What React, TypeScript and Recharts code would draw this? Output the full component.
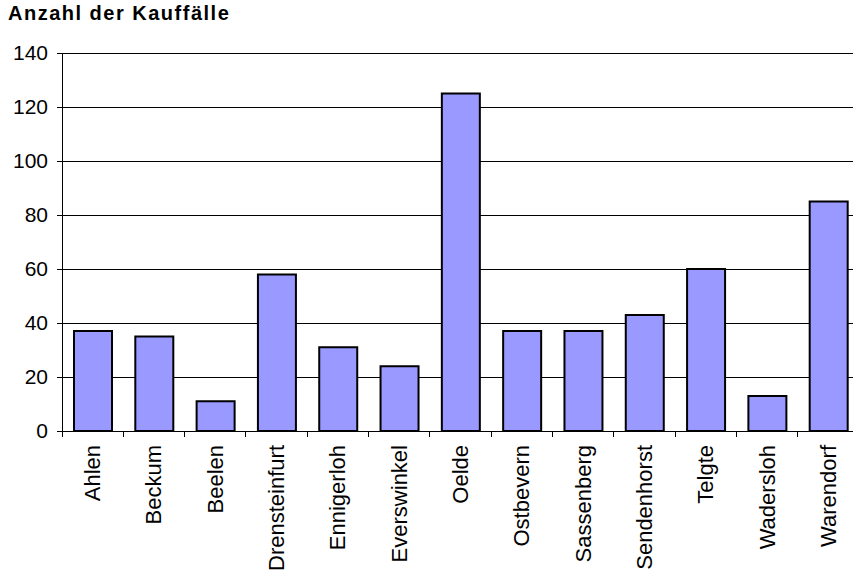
import { Bar, BarChart, CartesianGrid, XAxis, YAxis } from "recharts";

// Anzahl der Kauffälle je Gemeinde
const orte = [
  "Ahlen",
  "Beckum",
  "Beelen",
  "Drensteinfurt",
  "Ennigerloh",
  "Everswinkel",
  "Oelde",
  "Ostbevern",
  "Sassenberg",
  "Sendenhorst",
  "Telgte",
  "Wadersloh",
  "Warendorf",
];
const kauffaelle = [37, 35, 11, 58, 31, 24, 125, 37, 37, 43, 60, 13, 85];
const yTicks = [0, 20, 40, 60, 80, 100, 120, 140];

const data = orte.map((name, i) => ({ name, value: kauffaelle[i] }));

const FONT = "'Liberation Sans', Arial, sans-serif";
const CHART_W = 860;
const Y_W = 62;
const MARGIN_R = 1;
const STEP = (CHART_W - Y_W - MARGIN_R) / orte.length;

function OrtTick(props: any) {
  const { x, y, payload, index } = props;
  const last = index === orte.length - 1;
  return (
    <g shapeRendering="crispEdges">
      <line x1={x - STEP / 2} y1={y} x2={x - STEP / 2} y2={y + 6} stroke="#000" />
      {last && <line x1={x + STEP / 2} y1={y} x2={x + STEP / 2} y2={y + 6} stroke="#000" />}
      <text
        x={0}
        y={0}
        transform={`translate(${x},${y + 14}) rotate(-90)`}
        textAnchor="end"
        dominantBaseline="central"
        fontSize={22}
        fontFamily={FONT}
        fill="#000"
      >
        {payload.value}
      </text>
    </g>
  );
}

export default function App() {
  return (
    <div
      style={{
        position: "absolute",
        left: 0,
        top: 0,
        width: 853,
        height: 576,
        overflow: "hidden",
        background: "#fff",
      }}
    >
      <div
        style={{
          position: "absolute",
          left: 8,
          top: 2,
          fontFamily: FONT,
          fontWeight: "bold",
          fontSize: 20,
          letterSpacing: 1.5,
          color: "#000",
        }}
      >
        Anzahl der Kauffälle
      </div>
      <BarChart
        width={CHART_W}
        height={576}
        data={data}
        margin={{ top: 53, right: MARGIN_R, left: 0, bottom: 0 }}
        barSize={38}
      >
        <CartesianGrid vertical={false} stroke="#000" shapeRendering="crispEdges" />
        <YAxis
          width={Y_W}
          domain={[0, 140]}
          ticks={yTicks}
          interval={0}
          tickSize={5}
          tickMargin={9}
          axisLine={{ stroke: "#000", shapeRendering: "crispEdges" }}
          tickLine={{ stroke: "#000", shapeRendering: "crispEdges" }}
          tick={{ fill: "#000", fontSize: 21, fontFamily: FONT }}
        />
        <XAxis
          dataKey="name"
          height={145}
          interval={0}
          tickSize={0}
          tickMargin={0}
          axisLine={{ stroke: "#000", shapeRendering: "crispEdges" }}
          tickLine={false}
          tick={<OrtTick />}
        />
        <Bar dataKey="value" fill="#9999FF" stroke="#000" strokeWidth={2} isAnimationActive={false} />
      </BarChart>
    </div>
  );
}
